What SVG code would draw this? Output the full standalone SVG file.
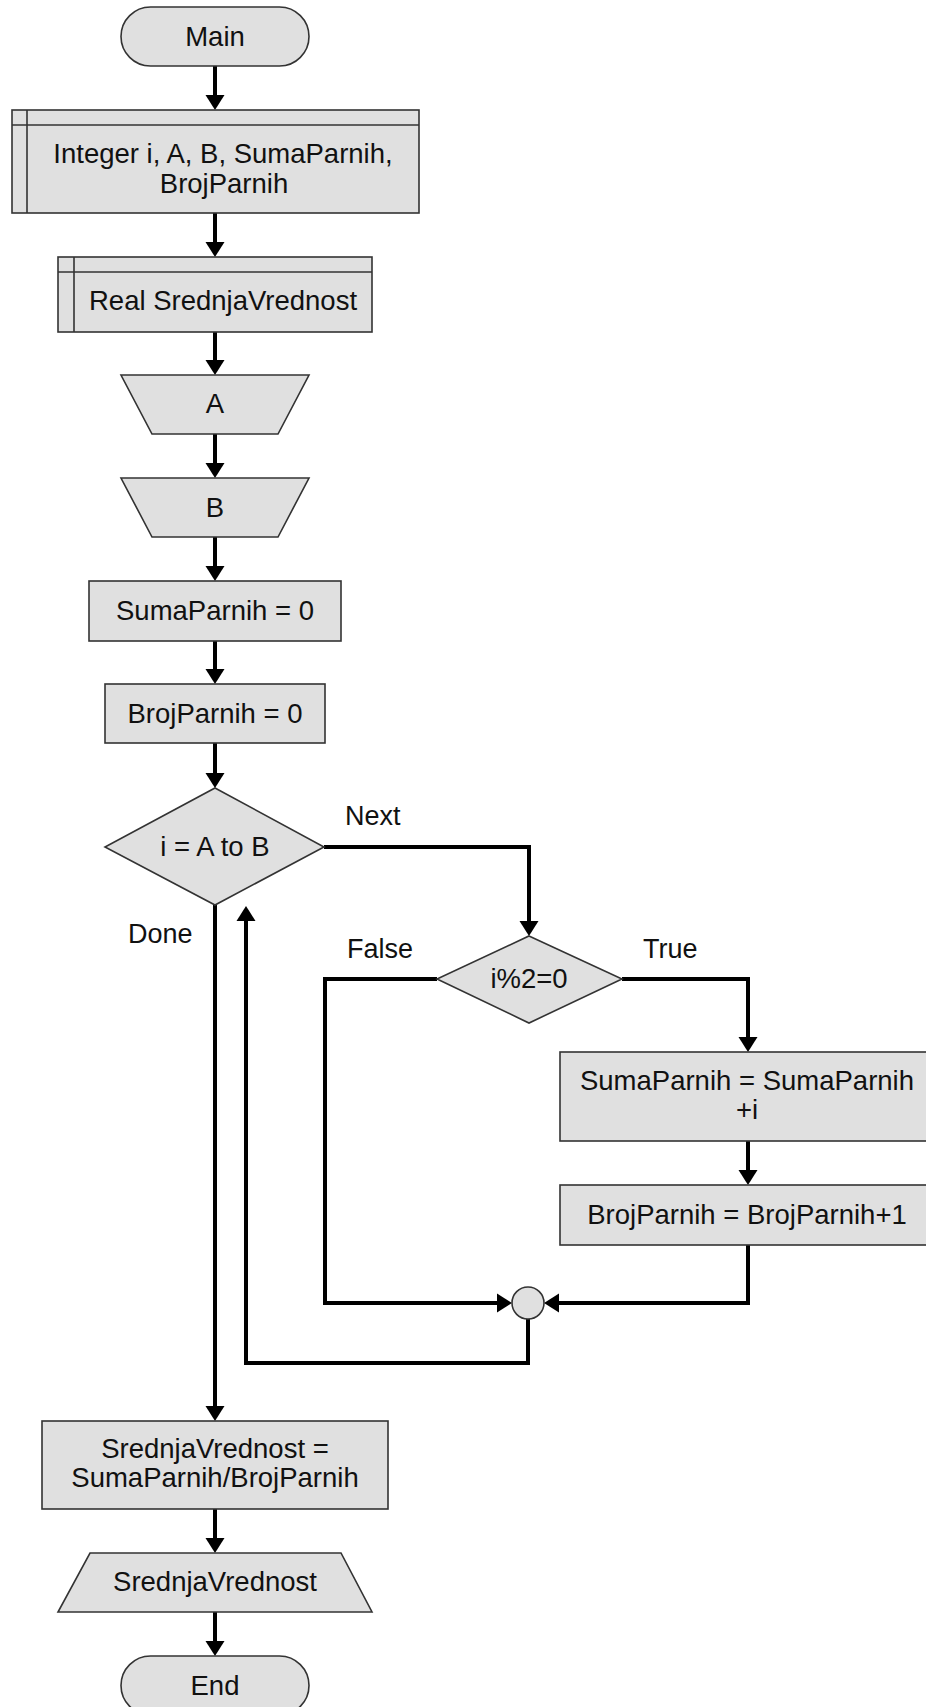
<svg xmlns="http://www.w3.org/2000/svg" width="926" height="1707" viewBox="0 0 926 1707">
<style>
.s{fill:#e0e0e0;stroke:#333;stroke-width:1.6}
.t{font-family:"Liberation Sans",Arial,sans-serif;font-size:27.5px;fill:#111;text-anchor:middle}
.l{font-family:"Liberation Sans",Arial,sans-serif;font-size:27px;fill:#111}
.c{fill:none;stroke:#000;stroke-width:4;stroke-linejoin:miter}
</style>
<defs>
<marker id="ah" markerUnits="userSpaceOnUse" markerWidth="16" markerHeight="20" refX="7" refY="9.5" orient="auto" viewBox="0 0 16 19">
<path d="M0,0 L15,9.5 L0,19 z" fill="#000"/>
</marker>
</defs>
<rect width="926" height="1707" fill="#fff"/>
<g id="connectors">
<path class="c" marker-end="url(#ah)" d="M215,66 V102"/>
<path class="c" marker-end="url(#ah)" d="M215,213 V249"/>
<path class="c" marker-end="url(#ah)" d="M215,332 V367"/>
<path class="c" marker-end="url(#ah)" d="M215,434 V470"/>
<path class="c" marker-end="url(#ah)" d="M215,537 V573"/>
<path class="c" marker-end="url(#ah)" d="M215,641 V676"/>
<path class="c" marker-end="url(#ah)" d="M215,743 V780"/>
<path class="c" marker-end="url(#ah)" d="M324,847 H529 V928"/>
<path class="c" marker-end="url(#ah)" d="M622,979 H748 V1044"/>
<path class="c" marker-end="url(#ah)" d="M748,1141 V1177"/>
<path class="c" marker-end="url(#ah)" d="M748,1245 V1303 H552"/>
<path class="c" marker-end="url(#ah)" d="M437,979 H325 V1303 H504"/>
<path class="c" marker-end="url(#ah)" d="M528,1319 V1363 H246 V914"/>
<path class="c" marker-end="url(#ah)" d="M215,905 V1413"/>
<path class="c" marker-end="url(#ah)" d="M215,1509 V1545"/>
<path class="c" marker-end="url(#ah)" d="M215,1612 V1648"/>
<text class="l" x="345" y="825">Next</text>
<text class="l" x="128" y="943">Done</text>
<text class="l" x="347" y="958">False</text>
<text class="l" x="643" y="958">True</text>
</g>
<g id="main">
<rect class="s" x="121" y="7" width="188" height="59" rx="29.5"/>
<text class="t" x="215" y="46">Main</text>
</g>
<g id="decl-integer">
<rect class="s" x="12" y="110" width="407" height="103"/>
<path class="s" d="M12,125 H419 M27,110 V213"/>
<text class="t" x="223" y="163">Integer i, A, B, SumaParnih,</text>
<text class="t" x="224" y="193">BrojParnih</text>
</g>
<g id="decl-real">
<rect class="s" x="58" y="257" width="314" height="75"/>
<path class="s" d="M58,272 H372 M74,257 V332"/>
<text class="t" x="223" y="310">Real SrednjaVrednost</text>
</g>
<g id="input-a">
<polygon class="s" points="121,375 309,375 278,434 152,434"/>
<text class="t" x="215" y="413">A</text>
</g>
<g id="input-b">
<polygon class="s" points="121,478 309,478 278,537 152,537"/>
<text class="t" x="215" y="517">B</text>
</g>
<g id="assign-suma">
<rect class="s" x="89" y="581" width="252" height="60"/>
<text class="t" x="215" y="620">SumaParnih = 0</text>
</g>
<g id="assign-broj">
<rect class="s" x="105" y="684" width="220" height="59"/>
<text class="t" x="215" y="723">BrojParnih = 0</text>
</g>
<g id="loop">
<polygon class="s" points="215,788 324,847 215,905 105,847"/>
<text class="t" x="215" y="856">i = A to B</text>
</g>
<g id="if-even">
<polygon class="s" points="529,936 622,979 529,1023 437,979"/>
<text class="t" x="529" y="988">i%2=0</text>
</g>
<g id="add-suma">
<rect class="s" x="560" y="1052" width="376" height="89"/>
<text class="t" x="747" y="1090">SumaParnih = SumaParnih</text>
<text class="t" x="747" y="1119">+i</text>
</g>
<g id="inc-broj">
<rect class="s" x="560" y="1185" width="376" height="60"/>
<text class="t" x="747" y="1224">BrojParnih = BrojParnih+1</text>
</g>
<g id="merge">
<circle class="s" cx="528" cy="1303" r="16"/>
</g>
<g id="compute-avg">
<rect class="s" x="42" y="1421" width="346" height="88"/>
<text class="t" x="215" y="1458">SrednjaVrednost =</text>
<text class="t" x="215" y="1487">SumaParnih/BrojParnih</text>
</g>
<g id="output">
<polygon class="s" points="90,1553 341,1553 372,1612 58,1612"/>
<text class="t" x="215" y="1591">SrednjaVrednost</text>
</g>
<g id="end">
<rect class="s" x="121" y="1656" width="188" height="59" rx="29.5"/>
<text class="t" x="215" y="1695">End</text>
</g>
</svg>
